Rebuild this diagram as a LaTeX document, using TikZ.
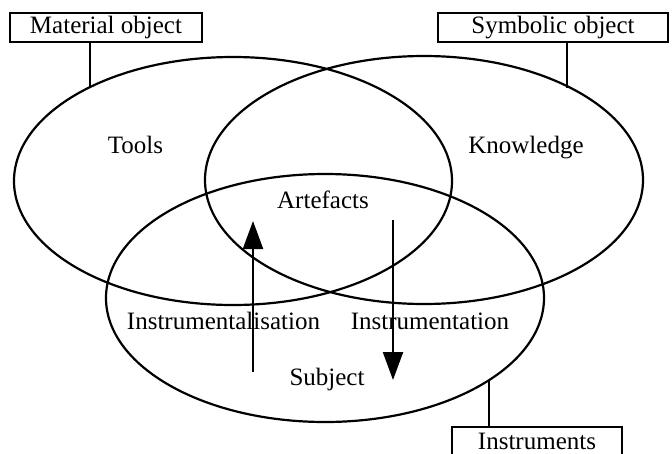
\documentclass[tikz,border=0pt]{standalone}
\usepackage{fontspec}
\setmainfont{Liberation Serif}
\usetikzlibrary{shapes.geometric,arrows.meta}
\begin{document}
\begin{tikzpicture}[x=1pt,y=-1pt,
  every node/.style={font=\fontsize{25}{30}\selectfont},
  ring/.style={ellipse, draw, line width=2.2pt, minimum width=438pt, minimum height=248pt, inner sep=0pt},
  labelbox/.style={draw, line width=2pt, inner sep=0pt, minimum height=29pt},
  lbl/.style={inner sep=0pt, anchor=base},
  tick/.style={line width=2.2pt},
  flow/.style={line width=2.2pt, -{Triangle[length=28pt,width=20pt]}}]
\useasboundingbox (0,0) rectangle (672,453);
\fill[white] (0,0) rectangle (672,453);
% ellipses
\node[ring] (L) at (233,181) {};
\node[ring] (R) at (424,180) {};
\node[ring] (B) at (325,298) {};
% label boxes
\node[labelbox, minimum width=192pt] (mat) at (106,27.5) {Material object};
\node[labelbox, minimum width=230pt] (sym) at (553,27.5) {Symbolic object};
\node[labelbox, minimum width=170pt, minimum height=28pt] (ins) at (537,441) {Instruments};
% ticks
\coordinate (mt) at (90,88);
\coordinate (st) at (567,88);
\coordinate (it) at (489,380);
\draw[tick] (mat.south -| mt) -- (mt);
\draw[tick] (sym.south -| st) -- (st);
\draw[tick] (it) -- (ins.north -| it);
% texts
\node[lbl] (tools) at (135.5,153) {Tools};
\node[lbl] (know) at (526,153) {Knowledge};
\node[lbl] (art) at (323,208) {Artefacts};
\node[lbl] (instz) at (223.5,329) {Instrumentalisation};
\node[lbl] (instn) at (430,329) {Instrumentation};
\node[lbl] (subj) at (327,385) {Subject};
% arrows
\coordinate (u0) at (253,372);
\coordinate (u1) at (253,221);
\coordinate (d0) at (393,220);
\coordinate (d1) at (393,380);
\draw[flow] (u0) -- (u1);
\draw[flow] (d0) -- (d1);
\end{tikzpicture}
\end{document}
